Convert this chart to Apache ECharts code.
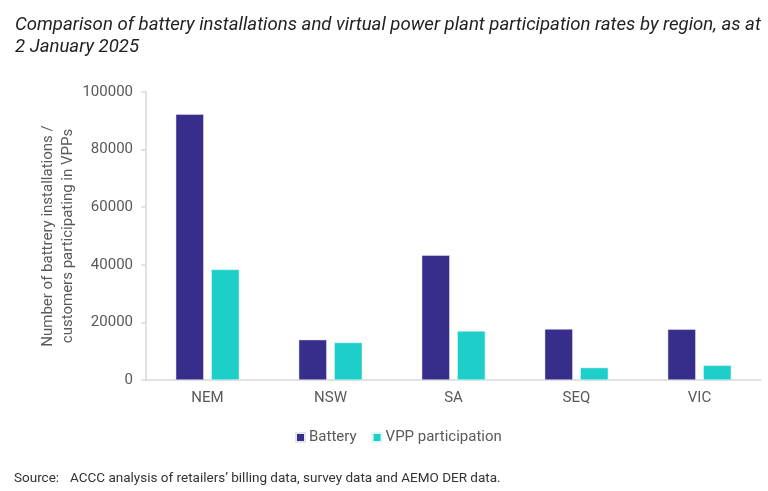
<!DOCTYPE html>
<html>
<head>
<meta charset="utf-8">
<script src="https://cdn.jsdelivr.net/npm/echarts@6/dist/echarts.min.js"></script>
<style>
html,body{margin:0;padding:0;background:#fff;}
#chart{width:768px;height:491px;}
</style>
</head>
<body>
<div id="chart"></div>
<script>
const categories = ['NEM', 'NSW', 'SA', 'SEQ', 'VIC'];
const batteryValues = [92300, 14000, 43300, 17700, 17600];
const vppValues = [38400, 13000, 17000, 4300, 5100];
const yTicks = { min: 0, max: 100000, interval: 20000 };

const chart = echarts.init(document.getElementById('chart'));
const FONT = 'Roboto';
chart.setOption({
  animation: false,
  textStyle: { fontFamily: FONT },
  title: {
    text: 'Comparison of battery installations and virtual power plant participation rates by region, as at\n2 January 2025',
    left: 10, top: 9,
    textStyle: { fontFamily: FONT, fontStyle: 'italic', fontWeight: 'normal', fontSize: 18.6, color: '#222', lineHeight: 22 }
  },
  graphic: [
    { type: 'text', left: 14, top: 472, style: { text: 'Source:', font: '13.5px Roboto', fill: '#333' } },
    { type: 'text', left: 70, top: 472, style: { text: 'ACCC analysis of retailers’ billing data, survey data and AEMO DER data.', font: '13.5px Roboto', fill: '#333' } }
  ],
  legend: {
    left: 290, top: 425,
    itemWidth: 9, itemHeight: 9, itemGap: 15,
    icon: 'rect',
    textStyle: { fontFamily: FONT, fontSize: 15, color: '#595959', padding: [0, 0, 0, -1] },
    data: ['Battery', 'VPP participation']
  },
  grid: { left: 146, right: 7, top: 92, bottom: 111, containLabel: false },
  xAxis: {
    type: 'category',
    data: categories,
    axisLine: { lineStyle: { color: '#d9d9d9', width: 1.5 } },
    axisTick: { show: false },
    axisLabel: { fontFamily: FONT, fontSize: 15, color: '#595959', margin: 11 }
  },
  yAxis: {
    type: 'value',
    min: yTicks.min, max: yTicks.max, interval: yTicks.interval,
    name: 'Number of battrery installations /\ncustomers participating in VPPs',
    nameLocation: 'middle', nameGap: 68, nameMoveOverlap: false,
    nameTextStyle: { fontFamily: FONT, fontSize: 15, color: '#595959', lineHeight: 20 },
    axisLine: { show: true, lineStyle: { color: '#d9d9d9', width: 1.5 } },
    axisTick: { show: true, length: 5, lineStyle: { color: '#d9d9d9', width: 1.5 } },
    splitLine: { show: false },
    axisLabel: { fontFamily: FONT, fontSize: 15, color: '#595959', margin: 13, formatter: v => String(v) }
  },
  series: [
    { name: 'Battery', type: 'bar', data: batteryValues, barWidth: 28, barGap: '27%',
      itemStyle: { color: '#372D8A', borderColor: '#e6e6f0', borderWidth: 0.5 } },
    { name: 'VPP participation', type: 'bar', data: vppValues, barWidth: 28,
      itemStyle: { color: '#1DCFC8', borderColor: '#e0f7f6', borderWidth: 0.5 } }
  ]
});
</script>
</body>
</html>
